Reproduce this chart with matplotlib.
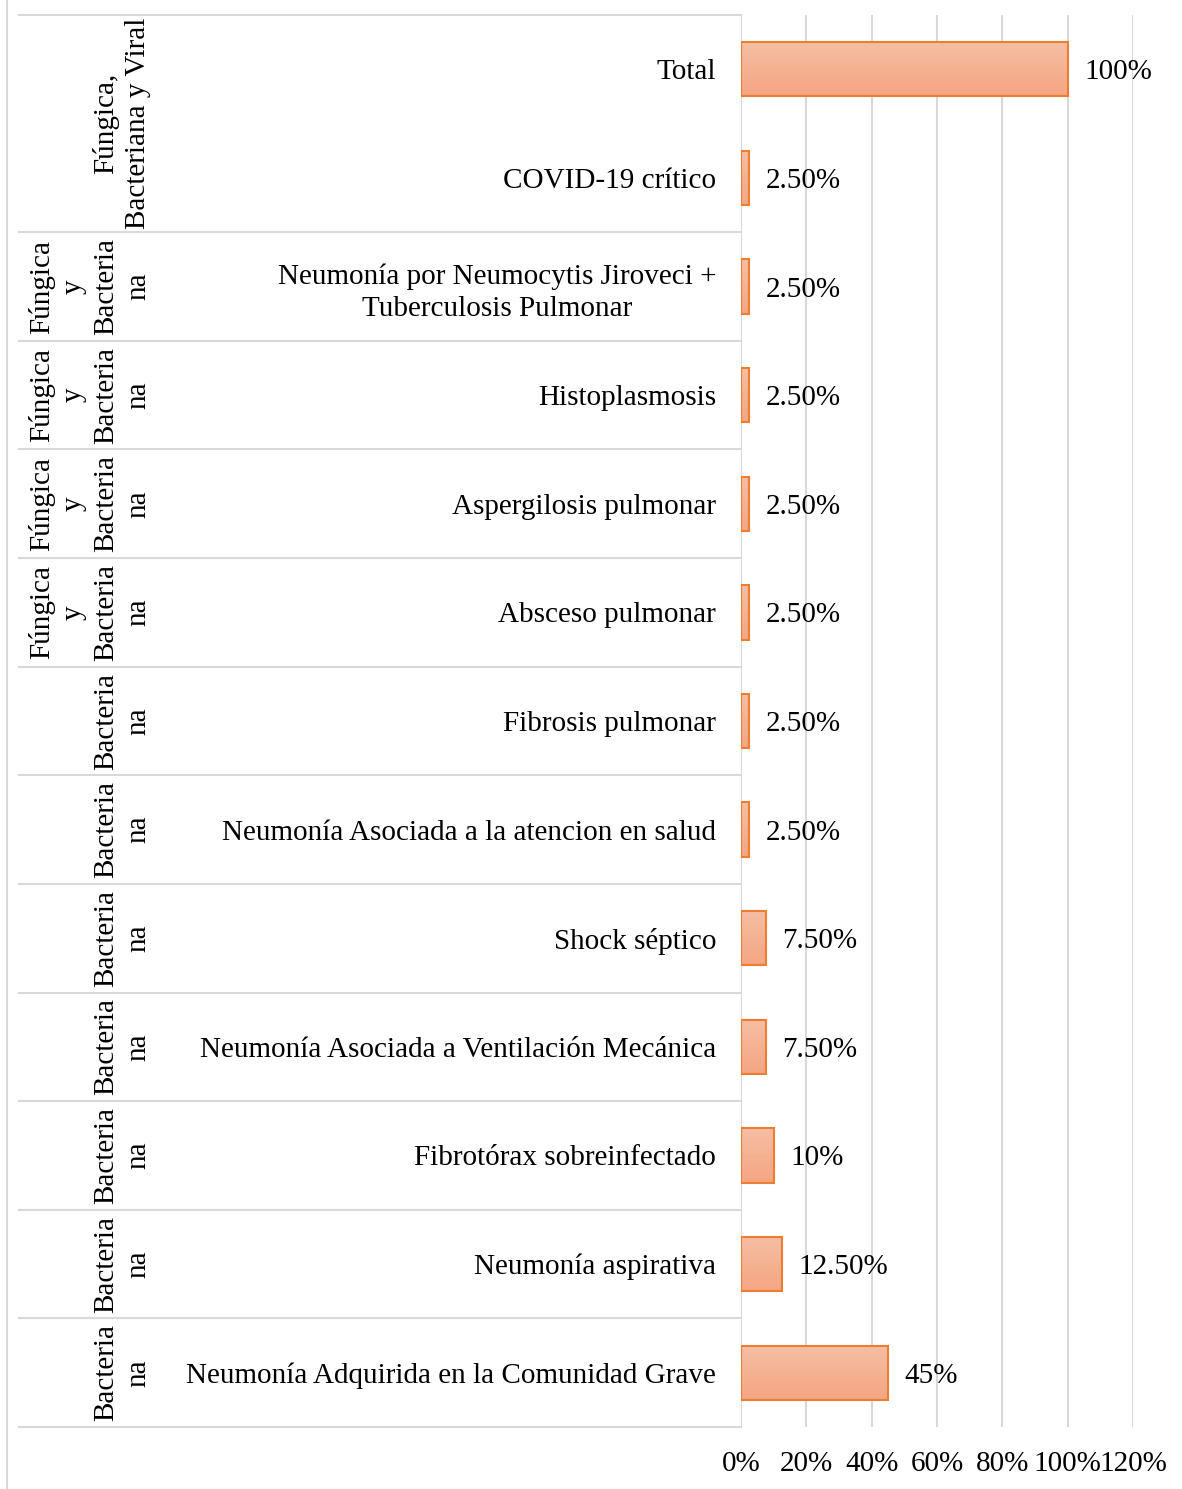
import matplotlib.pyplot as plt
import numpy as np
from matplotlib.lines import Line2D
from matplotlib.transforms import blended_transform_factory
from matplotlib.colors import LinearSegmentedColormap

plt.rcParams['font.family'] = ['Liberation Serif', 'DejaVu Serif']

# categories, top to bottom
categories = [
    "Total",
    "COVID-19 crítico",
    "Neumonía por Neumocytis Jiroveci +\nTuberculosis Pulmonar",
    "Histoplasmosis",
    "Aspergilosis pulmonar",
    "Absceso pulmonar",
    "Fibrosis pulmonar",
    "Neumonía Asociada a la atencion en salud",
    "Shock séptico",
    "Neumonía Asociada a Ventilación Mecánica",
    "Fibrotórax sobreinfectado",
    "Neumonía aspirativa",
    "Neumonía Adquirida en la Comunidad Grave",
]
values = [1.00, 0.025, 0.025, 0.025, 0.025, 0.025, 0.025, 0.025,
          0.075, 0.075, 0.10, 0.125, 0.45]
value_labels = ["100%", "2.50%", "2.50%", "2.50%", "2.50%", "2.50%", "2.50%",
                "2.50%", "7.50%", "7.50%", "10%", "12.50%", "45%"]

# outer grouping: (label, first row, last row)
groups = [
    ("Fúngica,\nBacteriana y Viral", 0, 1),
    ("Fúngica\ny\nBacteria\nna", 2, 2),
    ("Fúngica\ny\nBacteria\nna", 3, 3),
    ("Fúngica\ny\nBacteria\nna", 4, 4),
    ("Fúngica\ny\nBacteria\nna", 5, 5),
    ("Bacteria\nna", 6, 6),
    ("Bacteria\nna", 7, 7),
    ("Bacteria\nna", 8, 8),
    ("Bacteria\nna", 9, 9),
    ("Bacteria\nna", 10, 10),
    ("Bacteria\nna", 11, 11),
    ("Bacteria\nna", 12, 12),
]

xticks = [0, 0.2, 0.4, 0.6, 0.8, 1.0, 1.2]
xtick_labels = ["0%", "20%", "40%", "60%", "80%", "100%", "120%"]

W, H = 1182, 1489
FS = 21
GRID = "#D9D9D9"

fig = plt.figure(figsize=(W / 100, H / 100), dpi=100)
ax = fig.add_axes([741 / W, (H - 1427) / H, 392 / W, 1412 / H])

y = np.arange(len(categories))
bars = ax.barh(y, values, height=0.5, color="#F5B194",
               edgecolor="#ED7D31", linewidth=1.5, zorder=3)

# vertical gradient inside each bar
cmap = LinearSegmentedColormap.from_list("bar", ["#F6BEA4", "#F4A682"])
grad = np.linspace(0, 1, 64).reshape(-1, 1)
for b in bars:
    x0, y0 = b.get_x(), b.get_y()
    im = ax.imshow(grad, cmap=cmap, aspect="auto", zorder=3.5,
                   extent=(x0, x0 + b.get_width(), y0 + b.get_height(), y0))
    im.set_clip_path(b)
    b.set_facecolor("none")
    b.set_zorder(4)

for yi, v, lab in zip(y, values, value_labels):
    ax.annotate(lab, (v, yi), xytext=(12, 0), textcoords="offset points",
                ha="left", va="center_baseline", fontsize=FS)

ax.set_xlim(0, 1.2)
ax.set_ylim(len(categories) - 0.5, -0.5)
ax.set_xticks(xticks, xtick_labels, fontsize=FS)
ax.set_yticks(y, categories, fontsize=FS)
for lbl in ax.get_yticklabels():
    lbl.set_multialignment("center")
    lbl.set_linespacing(1.3)
ax.tick_params(axis="y", length=0, pad=18)
ax.tick_params(axis="x", length=0, pad=17)
ax.grid(axis="x", color=GRID, linewidth=1.5, zorder=0)
ax.set_axisbelow(True)
for s in ax.spines.values():
    s.set_visible(False)

# group labels and row separators on the left
tr = blended_transform_factory(fig.transFigure, ax.transData)
for label, r0, r1 in groups:
    ax.text(151 / W, (r0 + r1) / 2, label, transform=tr, rotation=90,
            ha="right", va="center", multialignment="center",
            linespacing=1.3, fontsize=FS)

bounds = [-0.5] + [r1 + 0.5 for _, _, r1 in groups]
for b in bounds:
    ax.add_line(Line2D([19 / W, 741 / W], [b, b], transform=tr,
                       color=GRID, linewidth=1.5, clip_on=False))

fig.add_artist(Line2D([6.5 / W, 6.5 / W], [0, 1], color=GRID, linewidth=1.5))

fig.savefig("out.png", dpi=100)
